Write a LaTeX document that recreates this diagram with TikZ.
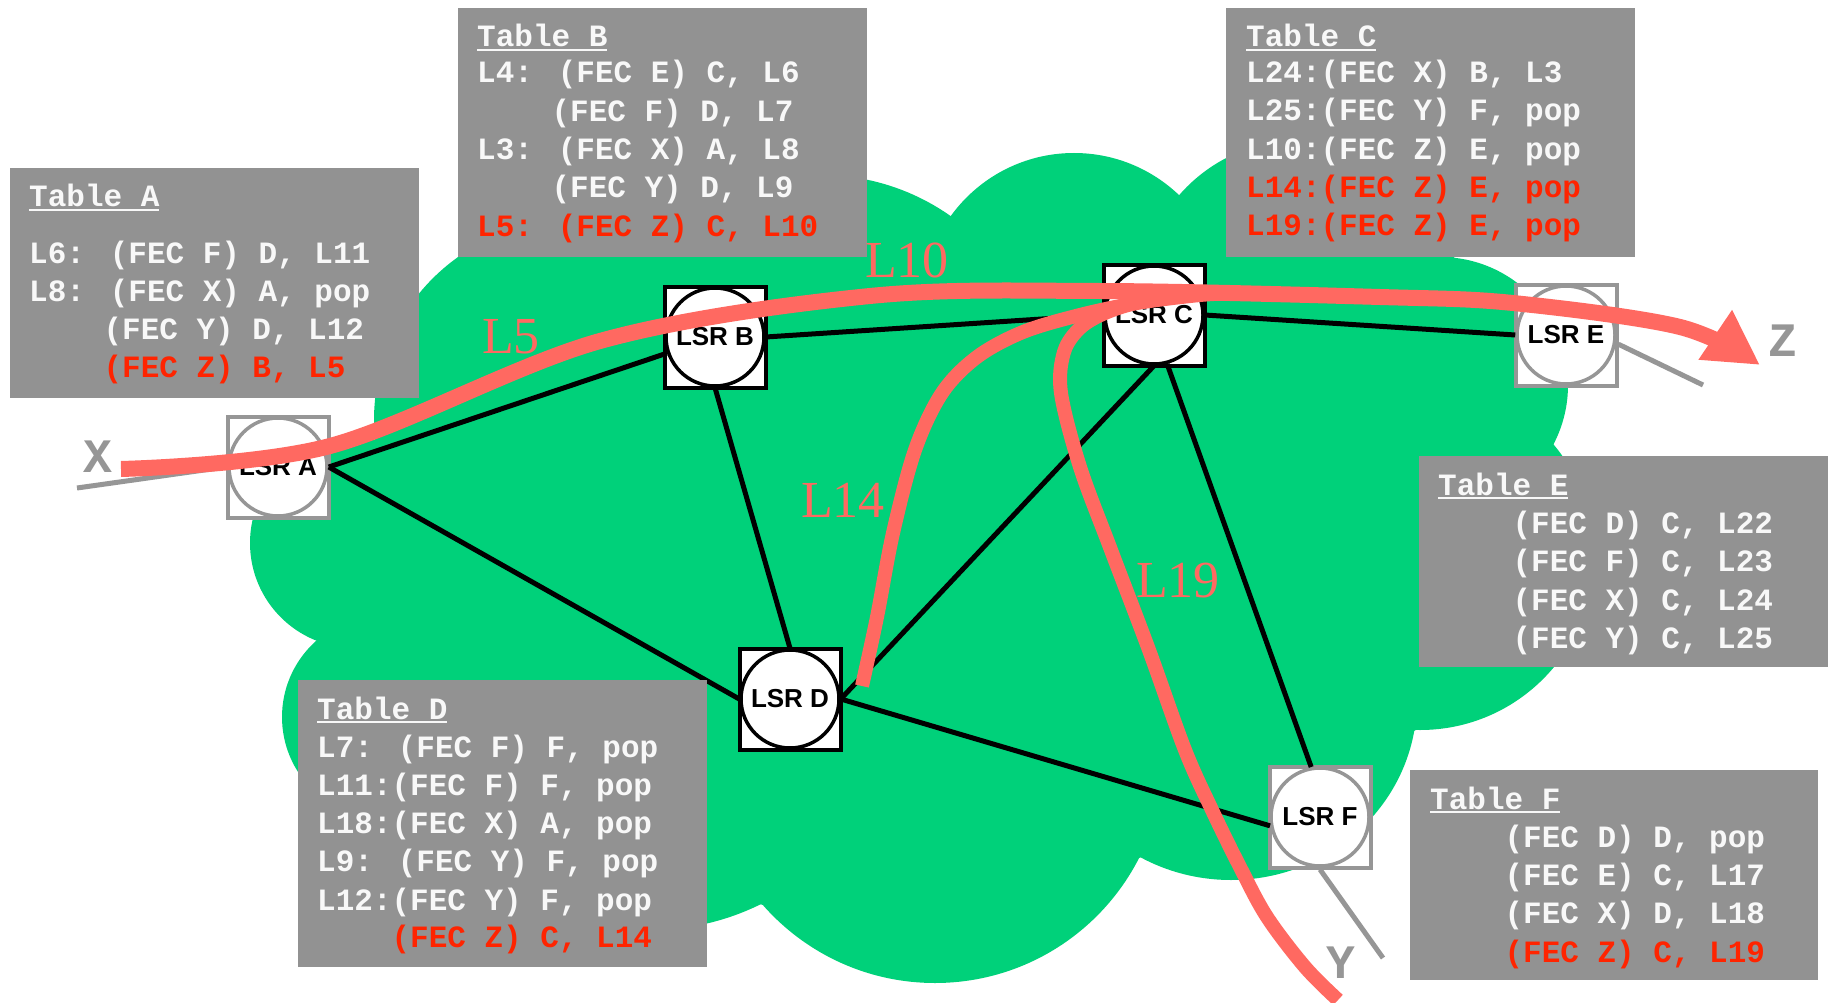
\documentclass[tikz,border=0pt]{standalone}
\usepackage{fontspec}
\setmainfont{Liberation Serif}
\newfontfamily\monofont{Liberation Mono}
\newfontfamily\lsrsans{Liberation Sans}
\usetikzlibrary{arrows.meta}

\definecolor{cloudgreen}{RGB}{0,209,122}
\definecolor{tablegray}{RGB}{146,146,146}
\definecolor{tabletext}{RGB}{248,248,248}
\definecolor{hotred}{RGB}{255,36,0}
\definecolor{pathred}{RGB}{255,105,97}
\definecolor{portgray}{RGB}{150,150,150}

\newcommand\tabfont{\monofont\bfseries\fontsize{31}{38}\selectfont}
\newcommand\lsrfont{\lsrsans\bfseries\fontsize{26}{30}\selectfont}
\newcommand\ind{\phantom{L00:}}
\newcommand\tabtitle[1]{\setbox0=\hbox{#1}\rlap{\rule[-4pt]{\wd0}{2.4pt}}\box0}

\tikzset{
  lsrbox/.style={rectangle, draw=#1, fill=white, line width=4pt, minimum size=101pt, inner sep=0pt},
  lsrring/.style={circle, draw=#1, line width=3.5pt, minimum size=98pt, inner sep=0pt, font=\lsrfont, text=black},
  link/.style={draw=black, line width=5pt},
  access/.style={draw=portgray, line width=5pt},
  lsp/.style={draw=pathred},
  tbox/.style={rectangle, fill=tablegray, inner sep=0pt, anchor=north west, minimum width=409pt},
  rowtext/.style={font=\tabfont, text=tabletext, inner sep=0pt, anchor=base west},
  plabel/.style={font=\fontsize{52}{56}\selectfont, text=pathred, inner sep=0pt, anchor=base west},
  endlabel/.style={font=\monofont\bfseries\fontsize{48}{52}\selectfont, text=portgray, inner sep=0pt, anchor=base}
}

\begin{document}
\begin{tikzpicture}[x=1pt,y=-1pt]
\useasboundingbox (0,0) rectangle (1828,1003);
\fill[white] (0,0) rectangle (1828,1003);

% network cloud: core polygon plus the outer bumps
\fill[cloudgreen] (375,440) -- (662,241) -- (951,216) -- (1184,195) -- (1454,258)
  -- (1553,444) -- (1416,730) -- (1139,858) -- (763,905) -- (434,806) -- (317,641) -- cycle;
\fill[cloudgreen] (574,420) circle[radius=200pt];
\fill[cloudgreen] (355,543) circle[radius=105pt];
\fill[cloudgreen] (821,400) circle[radius=225pt];
\fill[cloudgreen] (1074,305) circle[radius=152pt];
\fill[cloudgreen] (1300,300) circle[radius=160pt];
\fill[cloudgreen] (1440,385) circle[radius=128pt];
\fill[cloudgreen] (1420,556) circle[radius=174pt];
\fill[cloudgreen] (1231,700) ellipse[x radius=186pt, y radius=180pt];
\fill[cloudgreen] (935,754) circle[radius=229pt];
\fill[cloudgreen] (650,680) circle[radius=250pt];
\fill[cloudgreen] (384,717) circle[radius=102pt];

% label switching routers
\node[lsrbox=portgray] (Ab) at (278,467) {};
\node[lsrring=portgray] (Ac) at (278,467) {LSR A};
\node[lsrbox=black] (Bb) at (715,337) {};
\node[lsrring=black] (Bc) at (715,337) {LSR B};
\node[lsrbox=black] (Cb) at (1154,315) {};
\node[lsrring=black] (Cc) at (1154,315) {LSR C};
\node[lsrbox=black] (Db) at (790,699) {};
\node[lsrring=black] (Dc) at (790,699) {LSR D};
\node[lsrbox=portgray] (Eb) at (1566,335) {};
\node[lsrring=portgray] (Ec) at (1566,335) {LSR E};
\node[lsrbox=portgray] (Fb) at (1320,817) {};
\node[lsrring=portgray] (Fc) at (1320,817) {LSR F};

% links
\draw[link] (Ac.east) -- (Bc);
\draw[link] (Ac.east) -- (Dc.west);
\draw[link] (Bc.south) -- (Dc.north);
\draw[link] (Bc.east) -- (Cc.west);
\draw[link] (Cc.east) -- (Ec.west);
\draw[link] (Cc.south) -- (Dc.east);
\draw[link] (Cc.-75) -- (Fc.100);
\draw[link] (Dc.east) -- (Fc.190);

% access lines
\coordinate (xend) at (77,488);
\coordinate (zend) at (1703,385);
\coordinate (yend) at (1383,958);
\draw[access] (xend) -- (Ab.west);
\draw[access] (Eb.-10) -- (zend);
\draw[access] (Fb.south) -- (yend);

% LSP for FEC Z from X
\coordinate (m0) at (121,469);
\coordinate (m1) at (330,446);
\coordinate (m2) at (600,341);
\coordinate (m3) at (870,296);
\coordinate (m4) at (1100,291);
\coordinate (m5) at (1380,297);
\coordinate (m6) at (1513,303);
\coordinate (m7) at (1680,327);
\coordinate (tip) at (1760,365);
\draw[lsp, line width=16pt, -{Triangle[length=54pt,width=56pt]}]
  plot[smooth, tension=0.55] coordinates {(m0) (m1) (m2) (m3) (m4) (m5) (m6) (m7) (tip)};

% LSP from D
\coordinate (n0) at (862,686);
\coordinate (n1) at (877,617);
\coordinate (n2) at (893,533);
\coordinate (n3) at (915,450);
\coordinate (n4) at (942,393);
\coordinate (n5) at (977,357);
\coordinate (n6) at (1023,332);
\coordinate (n7) at (1080,315);
\coordinate (n8) at (1137,303);
\coordinate (n9) at (1200,295);
\coordinate (n10) at (1240,293);
\draw[lsp, line width=14pt]
  plot[smooth, tension=0.55] coordinates {(n0) (n1) (n2) (n3) (n4) (n5) (n6) (n7) (n8) (n9) (n10)};

% LSP from Y
\coordinate (p0) at (1338,1000);
\coordinate (p1) at (1305,967);
\coordinate (p2) at (1267,917);
\coordinate (p3) at (1240,867);
\coordinate (p4) at (1212,810);
\coordinate (p5) at (1185,750);
\coordinate (p6) at (1149,650);
\coordinate (p7) at (1111,550);
\coordinate (p8) at (1080,467);
\coordinate (p9) at (1061,393);
\coordinate (p10) at (1064,352);
\coordinate (p11) at (1080,328);
\coordinate (p12) at (1105,313);
\coordinate (p13) at (1140,302);
\coordinate (p14) at (1190,295);
\coordinate (p15) at (1240,293);
\draw[lsp, line width=14pt]
  plot[smooth, tension=0.55] coordinates {(p0) (p1) (p2) (p3) (p4) (p5) (p6) (p7) (p8) (p9) (p10) (p11) (p12) (p13) (p14) (p15)};

% forwarding tables
\node[tbox, minimum height=230pt] (tabA) at (10,168) {};
\node[rowtext] (tabA-t) at (29,207) {\tabtitle{Table A}};
\foreach \yy/\tx [count=\i] in {263/{L6: (FEC F) D, L11}, 301/{L8: (FEC X) A, pop},
    339/{\ind(FEC Y) D, L12}, 377/{\color{hotred}\ind(FEC Z) B, L5}}
  \node[rowtext] (tabA-\i) at (29,\yy) {\tx};

\node[tbox, minimum height=249pt] (tabB) at (458,8) {};
\node[rowtext] (tabB-t) at (477,47) {\tabtitle{Table B}};
\foreach \yy/\tx [count=\i] in {83/{L4: (FEC E) C, L6}, 121.5/{\ind(FEC F) D, L7},
    160/{L3: (FEC X) A, L8}, 198/{\ind(FEC Y) D, L9}, 236.5/{\color{hotred}L5: (FEC Z) C, L10}}
  \node[rowtext] (tabB-\i) at (477,\yy) {\tx};

\node[tbox, minimum height=249pt] (tabC) at (1226,8) {};
\node[rowtext] (tabC-t) at (1246,47) {\tabtitle{Table C}};
\foreach \yy/\tx [count=\i] in {83/{L24:(FEC X) B, L3}, 121/{L25:(FEC Y) F, pop},
    159.5/{L10:(FEC Z) E, pop}, 197.5/{\color{hotred}L14:(FEC Z) E, pop},
    235.5/{\color{hotred}L19:(FEC Z) E, pop}}
  \node[rowtext] (tabC-\i) at (1246,\yy) {\tx};

\node[tbox, minimum height=287pt] (tabD) at (298,680) {};
\node[rowtext] (tabD-t) at (317,719) {\tabtitle{Table D}};
\foreach \yy/\tx [count=\i] in {757/{L7: (FEC F) F, pop}, 795/{L11:(FEC F) F, pop},
    833/{L18:(FEC X) A, pop}, 871.5/{L9: (FEC Y) F, pop}, 910/{L12:(FEC Y) F, pop},
    947.5/{\color{hotred}\ind(FEC Z) C, L14}}
  \node[rowtext] (tabD-\i) at (317,\yy) {\tx};

\node[tbox, minimum height=211pt] (tabE) at (1419,456) {};
\node[rowtext] (tabE-t) at (1438,495) {\tabtitle{Table E}};
\foreach \yy/\tx [count=\i] in {533/{\ind(FEC D) C, L22}, 571/{\ind(FEC F) C, L23},
    610/{\ind(FEC X) C, L24}, 648/{\ind(FEC Y) C, L25}}
  \node[rowtext] (tabE-\i) at (1438,\yy) {\tx};

\node[tbox, minimum height=210pt, minimum width=408pt] (tabF) at (1410,770) {};
\node[rowtext] (tabF-t) at (1430,809) {\tabtitle{Table F}};
\foreach \yy/\tx [count=\i] in {847/{\ind(FEC D) D, pop}, 885/{\ind(FEC E) C, L17},
    923/{\ind(FEC X) D, L18}, 962/{\color{hotred}\ind(FEC Z) C, L19}}
  \node[rowtext] (tabF-\i) at (1430,\yy) {\tx};

% label names on the LSP
\node[plabel] (lab5) at (482,353) {L5};
\node[plabel] (lab10) at (865,277) {L10};
\node[plabel] (lab14) at (801,517) {L14};
\node[plabel] (lab19) at (1136,597) {L19};

% end points
\node[endlabel] (labX) at (98,472) {X};
\node[endlabel] (labY) at (1341,978) {Y};
\node[endlabel] (labZ) at (1783,356) {Z};
\end{tikzpicture}
\end{document}
